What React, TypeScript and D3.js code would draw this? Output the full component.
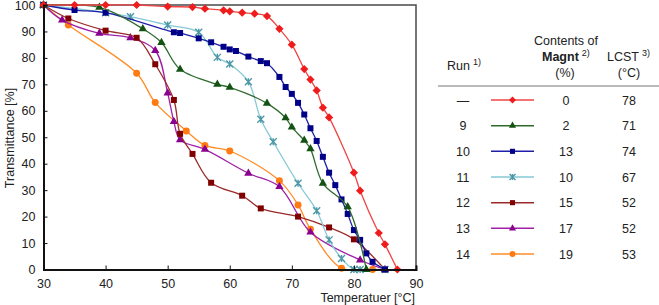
import React, { useEffect, useRef } from 'react';
import * as d3 from 'd3';

const WIDTH = 659;
const HEIGHT = 305;

// Transmittance (%) against temperature (°C), one pair of arrays per run
const tempRunBlank = [30, 35, 40, 45, 50, 54, 56, 59, 60, 62, 64, 66, 68, 70, 72, 73, 74, 75, 76, 80, 81, 84, 85, 87];
const transRunBlank = [100, 100, 100, 100, 99.4, 99.2, 98.6, 98, 97.6, 97.1, 96.7, 95.8, 91, 85, 75.8, 71.8, 67.7, 61.2, 57.5, 36.6, 29.8, 13.8, 9.5, 0];

const tempRun9 = [30, 39, 46, 49, 52, 58, 60, 66, 69, 70, 72, 73, 75, 79, 82];
const transRun9 = [100, 99.1, 91, 85.8, 75.7, 70, 68.9, 62.8, 57.3, 53.8, 48.8, 45.6, 32.6, 23.7, 0];

const tempRun10 = [30, 35, 40, 51, 52, 55, 57, 59, 60, 61, 63, 65, 66, 68, 69, 70, 71, 72, 73, 74, 75, 76, 77, 78, 79, 80, 81, 82, 83, 85];
const transRun10 = [100, 98.1, 97.1, 89.7, 89.4, 87.4, 85.9, 84.2, 83.2, 82.6, 80.5, 78.8, 78, 72.8, 69, 66.4, 63, 58.6, 53.4, 48.6, 42.6, 36.6, 31.9, 26.5, 21, 14.9, 11.2, 6.1, 2.9, 0];

const tempRun11 = [30, 40, 44, 50, 55, 58, 60, 63, 65, 67, 71, 74, 76, 78, 80, 81, 85];
const transRun11 = [100, 97.1, 95.6, 92.4, 89.7, 80.2, 77.7, 71, 56.8, 48.3, 32.6, 22.2, 11.2, 4.2, 0, 0, 0];

const tempRun12 = [30, 34, 40, 45, 48, 51, 52, 54, 57, 62, 65, 71, 76, 80, 85];
const transRun12 = [100, 94.9, 90.3, 87.6, 77.6, 64.1, 51.3, 43.7, 32.8, 27.9, 23.1, 20, 15.9, 11.4, 0];

const tempRun13 = [30, 33, 39, 44, 48, 50, 51, 52, 56, 63, 68, 73, 81, 85];
const transRun13 = [100, 94.3, 89.3, 87.6, 82.8, 66.7, 55.9, 49, 45.4, 36.4, 31.3, 14.1, 3.6, 0];

const tempRun14 = [30, 34, 45, 48, 53, 56, 60, 68, 71, 73, 78, 83];
const transRun14 = [100, 92.4, 74.2, 63.1, 52.4, 46.9, 44.8, 33.6, 24.4, 15.2, 0.5, 0];

// table columns
const runLabels = ['—', '9', '10', '11', '12', '13', '14'];
const magntContents = [0, 2, 13, 10, 15, 17, 19];
const lcstValues = [78, 71, 74, 67, 52, 52, 53];

const xTicks = [30, 40, 50, 60, 70, 80, 90];
const yTicks = [0, 10, 20, 30, 40, 50, 60, 70, 80, 90, 100];

// drawing styles, in the same order as the runs
const seriesStyles = [
  { line: '#f04545', fill: '#ee1c1c', marker: 'diamond' },
  { line: '#2f6a2f', fill: '#145214', marker: 'triangle' },
  { line: '#1e1ea8', fill: '#000088', marker: 'square' },
  { line: '#86c9d6', fill: '#4d98a6', marker: 'star' },
  { line: '#9a2a2a', fill: '#800000', marker: 'square' },
  { line: '#a020a8', fill: '#8a008f', marker: 'triangle' },
  { line: '#ff8c26', fill: '#ff7a10', marker: 'circle' },
];

const FONT = "'Liberation Sans', Arial, sans-serif";

const drawMarker = (g, kind, color, x, y, scale = 1) => {
  if (kind === 'star') {
    const r = 3.5 * scale;
    g.append('path')
      .attr('d', `M${x - r},${y - r}L${x + r},${y + r}M${x - r},${y + r}L${x + r},${y - r}M${x},${y - r}L${x},${y + r}`)
      .attr('stroke', color)
      .attr('stroke-width', 1.4)
      .attr('fill', 'none');
    return;
  }
  const type = kind === 'triangle' ? d3.symbolTriangle
    : kind === 'circle' ? d3.symbolCircle : d3.symbolSquare;
  const size = (kind === 'diamond' ? 34 : kind === 'triangle' ? 30 : kind === 'square' ? 36 : 38) * scale * scale;
  g.append('path')
    .attr('d', d3.symbol().type(type).size(size)())
    .attr('transform', `translate(${x},${y})${kind === 'diamond' ? ' rotate(45)' : ''}`)
    .attr('fill', color);
};

const App = () => {
  const svgRef = useRef();

  useEffect(() => {
    const svg = d3.select(svgRef.current);
    svg.selectAll('*').remove();

    const margin = { top: 5, right: 416, bottom: 269.5, left: 43.5 };

    const x = d3.scaleLinear().domain([30, 90]).range([margin.left, margin.right]);
    const y = d3.scaleLinear().domain([0, 100]).range([margin.bottom, margin.top]);

    svg.append('rect')
      .attr('width', WIDTH)
      .attr('height', HEIGHT)
      .attr('fill', 'white');

    const series = [
      [tempRunBlank, transRunBlank],
      [tempRun9, transRun9],
      [tempRun10, transRun10],
      [tempRun11, transRun11],
      [tempRun12, transRun12],
      [tempRun13, transRun13],
      [tempRun14, transRun14],
    ].map(([t, v]) => t.map((tt, i) => ({ t: tt, v: v[i] })));

    // frame: thin top/right, axes on left/bottom
    svg.append('path')
      .attr('d', `M${margin.left},${margin.top}H${margin.right}V${margin.bottom}`)
      .attr('fill', 'none')
      .attr('stroke', '#4a4a4a')
      .attr('stroke-width', 1.5);

    const line = d3.line()
      .x(d => x(d.t))
      .y(d => y(d.v))
      .curve(d3.curveCatmullRom.alpha(0.5));

    const plot = svg.append('g');
    // draw the last run first so the blank run ends on top
    for (let i = series.length - 1; i >= 0; i--) {
      const st = seriesStyles[i];
      plot.append('path')
        .datum(series[i])
        .attr('d', line)
        .attr('fill', 'none')
        .attr('stroke', st.line)
        .attr('stroke-width', 1.3);
      series[i].forEach(d => drawMarker(plot, st.marker, st.fill, x(d.t), y(d.v)));
    }

    // y axis
    const yAxis = svg.append('g')
      .attr('transform', `translate(${margin.left},0)`)
      .call(d3.axisLeft(y).tickValues(yTicks).tickSize(-4).tickPadding(8));
    yAxis.select('.domain').attr('stroke', '#111').attr('stroke-width', 2);
    yAxis.selectAll('line').attr('stroke', '#111');
    yAxis.selectAll('text')
      .attr('font-family', FONT)
      .attr('font-size', 12.5)
      .attr('fill', '#222');

    // x axis
    const xAxis = svg.append('g')
      .attr('transform', `translate(0,${margin.bottom})`)
      .call(d3.axisBottom(x).tickValues(xTicks).tickSize(-4).tickPadding(10));
    xAxis.select('.domain').attr('stroke', '#111').attr('stroke-width', 2);
    xAxis.selectAll('line').attr('stroke', '#111');
    xAxis.selectAll('text')
      .attr('font-family', FONT)
      .attr('font-size', 12.5)
      .attr('fill', '#222');

    svg.append('text')
      .attr('transform', `translate(14,138) rotate(-90)`)
      .attr('text-anchor', 'middle')
      .attr('font-family', FONT)
      .attr('font-size', 12.5)
      .attr('fill', '#222')
      .text('Transmittance [%]');

    svg.append('text')
      .attr('x', 415)
      .attr('y', 301.5)
      .attr('text-anchor', 'end')
      .attr('font-family', FONT)
      .attr('font-size', 12.5)
      .attr('fill', '#222')
      .text('Temperatuer [°C]');

    // legend table
    const table = svg.append('g')
      .attr('font-family', FONT)
      .attr('font-size', 12.5)
      .attr('fill', '#222');

    const runHead = table.append('text').attr('x', 447).attr('y', 70);
    runHead.append('tspan').text('Run');
    runHead.append('tspan').attr('dx', 3).attr('dy', -5).attr('font-size', 9).text('1)');

    table.append('text').attr('x', 566).attr('y', 45).attr('text-anchor', 'middle').text('Contents of');
    const magHead = table.append('text').attr('x', 542).attr('y', 61);
    magHead.append('tspan').attr('font-weight', 'bold').text('Magnt');
    magHead.append('tspan').attr('dx', 3).attr('dy', -5).attr('font-size', 9).text('2)');
    table.append('text').attr('x', 565).attr('y', 77).attr('text-anchor', 'middle').text('(%)');

    const lcstHead = table.append('text').attr('x', 607).attr('y', 61);
    lcstHead.append('tspan').text('LCST');
    lcstHead.append('tspan').attr('dx', 3).attr('dy', -5).attr('font-size', 9).text('3)');
    table.append('text').attr('x', 629).attr('y', 77).attr('text-anchor', 'middle').text('(°C)');

    table.append('line')
      .attr('x1', 438).attr('x2', 659)
      .attr('y1', 86).attr('y2', 86)
      .attr('stroke', '#777')
      .attr('stroke-width', 1);

    const rowY = d3.scalePoint().domain(runLabels.map((_, i) => i)).range([100, 254]);

    runLabels.forEach((run, i) => {
      const ry = rowY(i);
      const st = seriesStyles[i];
      table.append('text').attr('x', 463).attr('y', ry + 4.5).attr('text-anchor', 'middle').text(run);
      table.append('line')
        .attr('x1', 491).attr('x2', 534)
        .attr('y1', ry).attr('y2', ry)
        .attr('stroke', st.line)
        .attr('stroke-width', 1.5);
      drawMarker(table, st.marker, st.fill, 512.5, ry, 0.85);
      table.append('text').attr('x', 566).attr('y', ry + 4.5).attr('text-anchor', 'middle').text(magntContents[i]);
      table.append('text').attr('x', 629).attr('y', ry + 4.5).attr('text-anchor', 'middle').text(lcstValues[i]);
    });
  }, []);

  return (
    <svg
      ref={svgRef}
      width={WIDTH}
      height={HEIGHT}
      style={{ position: 'absolute', left: 0, top: 0 }}
    />
  );
};

export default App;
